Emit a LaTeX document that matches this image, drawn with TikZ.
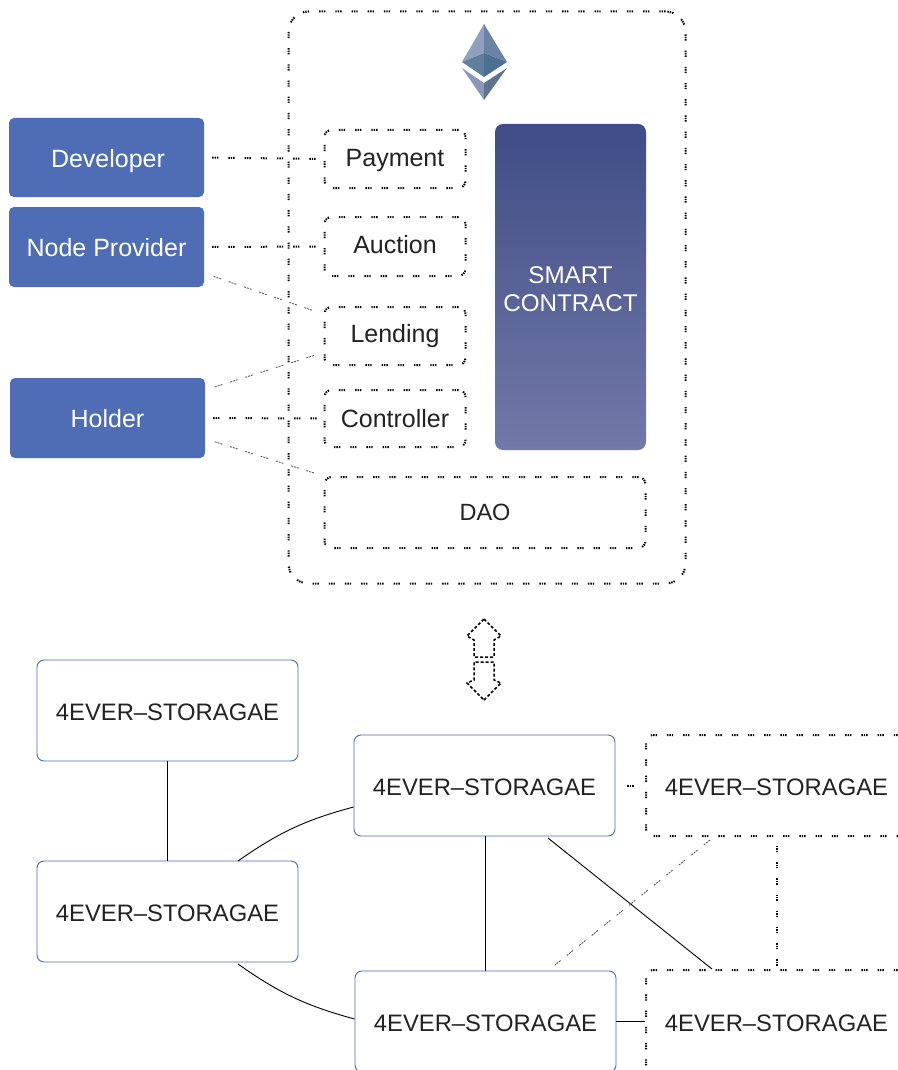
\documentclass[tikz,border=0pt]{standalone}
\usepackage{fontspec}
\setmainfont{Liberation Sans}
\usetikzlibrary{positioning,calc,arrows}
\definecolor{rolecol}{HTML}{4E6DB5}
\definecolor{storecol}{HTML}{4A69B3}
\definecolor{inkcol}{HTML}{222222}
\definecolor{contracttop}{HTML}{3F4C86}
\definecolor{contractbot}{HTML}{7379A8}
\tikzset{
  dots/.style={line width=2pt,dash pattern=on 1.4pt off 1pt on 1.4pt off 1pt on 1.4pt off 10pt},
  greydots/.style={line width=.9pt,color=black!65,dash pattern=on 2pt off 1pt on 2pt off 1pt on 2pt off 8pt},
  rolebox/.style={fill=rolecol,rounded corners=5pt,minimum width=195pt,minimum height=79pt,inner sep=0pt,text=white,text height=18pt,text depth=0pt,font=\fontsize{25}{28}\selectfont},
  usebox/.style={draw,dots,rounded corners=7pt,minimum width=141pt,inner sep=0pt,text=inkcol,text depth=0pt,font=\fontsize{25}{28}\selectfont},
  storebox/.style={draw=storecol,line width=.9pt,rounded corners=7pt,minimum width=261pt,minimum height=101pt,inner sep=0pt,text=inkcol,text height=19pt,text depth=0pt,font=\fontsize{23.8}{26}\selectfont},
  offbox/.style={draw,dots,rounded corners=7pt,minimum width=261pt,inner sep=0pt,text=inkcol,text height=19pt,text depth=0pt,font=\fontsize{23.8}{26}\selectfont},
  link/.style={line width=.9pt},
  arrowpart/.style={line width=1.5pt,dash pattern=on 3pt off 2pt,color=black},
}
\begin{document}
\begin{tikzpicture}[x=1pt,y=-1pt]
\useasboundingbox (0,0) rectangle (897,1070);
\node[draw,dots,rounded corners=20pt,minimum width=397pt,minimum height=572pt] (chain) at (487,297.5) {};
% logo
\fill[fill={rgb,255:red,143;green,159;blue,191}] (484,24) -- (462,62) -- (484,53) -- cycle;
\fill[fill={rgb,255:red,107;green,132;blue,163}] (484,24) -- (507,62) -- (484,53) -- cycle;
\fill[fill={rgb,255:red,95;green,127;blue,159}] (484,53) -- (462,62) -- (484,77) -- cycle;
\fill[fill={rgb,255:red,77;green,111;blue,144}] (484,53) -- (507,62) -- (484,77) -- cycle;
\fill[fill={rgb,255:red,139;green,151;blue,184}] (462,68) -- (484,83) -- (484,100) -- cycle;
\fill[fill={rgb,255:red,95;green,115;blue,145}] (507,68) -- (484,83) -- (484,100) -- cycle;

\node[rolebox,text height=19pt] (developer) at (106.5,157.5) {\hspace{3pt}Developer};
\node[rolebox,minimum height=80pt] (provider) at (106.5,247) {Node Provider};
\node[rolebox,minimum height=80pt] (holder) at (107.5,418) {Holder};

\node[usebox,minimum height=58pt,text height=15pt] (payment) at (395,159) {Payment};
\node[usebox,minimum height=59pt,text height=13pt] (auction) at (395,246.5) {Auction};
\node[usebox,minimum height=58pt,text height=12pt] (lending) at (395,336) {Lending};
\node[usebox,minimum height=57pt,text height=17pt] (controller) at (395,418.5) {Controller};
\node[usebox,minimum width=321pt,minimum height=71pt,text height=15pt,font=\fontsize{23.5}{26}\selectfont] (dao) at (485,512.5) {DAO};
\node[rounded corners=8pt,top color=contracttop,bottom color=contractbot,minimum width=151pt,minimum height=326pt,
  inner sep=0pt] (contract) at (570.5,287) {};
\node[text=white,align=center,inner sep=0pt,font=\fontsize{24.2}{28.5}\selectfont] (contractname) at (570.5,289) {SMART\\CONTRACT};

\draw[dots,shorten <=8pt] (developer.east) -- (payment.west);
\draw[dots,shorten <=8pt] (provider.east) -- (auction.west);
\draw[dots,shorten <=8pt] (holder.east) -- (controller.west);
\draw[greydots,shorten <=10pt,shorten >=8pt] (provider.-15.3) -- (lending.163.5);
\draw[greydots,shorten <=10pt,shorten >=8pt] (holder.16) -- (lending.193);
\draw[greydots,shorten <=10pt,shorten >=8pt] (holder.-12) -- (dao.north west);

% double arrow
\draw[arrowpart]
(484,619) -- (501,636) -- (494,640) -- (494,657) -- (474,657) -- (474,640) -- (467,636) -- cycle;
\draw[arrowpart]
(484,700) -- (501,683) -- (494,680) -- (494,662) -- (474,662) -- (474,680) -- (467,683) -- cycle;

\node[storebox] (storeA) at (167.5,710.5) {4EVER–STORAGAE};
\node[storebox] (storeB) at (167.5,911.5) {4EVER–STORAGAE};
\node[storebox] (storeC) at (484.5,785.5) {4EVER–STORAGAE};
\node[storebox] (storeD) at (485.5,1021.5) {4EVER–STORAGAE};
\node[offbox,minimum height=101pt] (storeE) at (776.5,785.5) {4EVER–STORAGAE};
\node[offbox,minimum height=104pt,text height=18pt] (storeF) at (776.5,1022) {4EVER–STORAGAE};

\draw[link] (storeA) -- (storeB);
\draw[link] (storeC.west |- 0,807) to[bend right=10] (238,861);
\draw[link] (238,964) to[bend right=10] (storeD.west |- 0,1019);
\draw[link] (storeD.north) -- (storeD.north |- storeC.south);
\draw[link] (548,838) -- (712,969);
\draw[link] (storeD.east) -- (storeD.east -| storeF.west);
\draw[dots,shorten <=12pt,shorten >=10pt] (storeC.east) -- (storeE.west);
\draw[dots,shorten <=9pt] (storeE.south) -- (storeF.north);
\draw[greydots] (710,840) -- (555,965);
\end{tikzpicture}
\end{document}
